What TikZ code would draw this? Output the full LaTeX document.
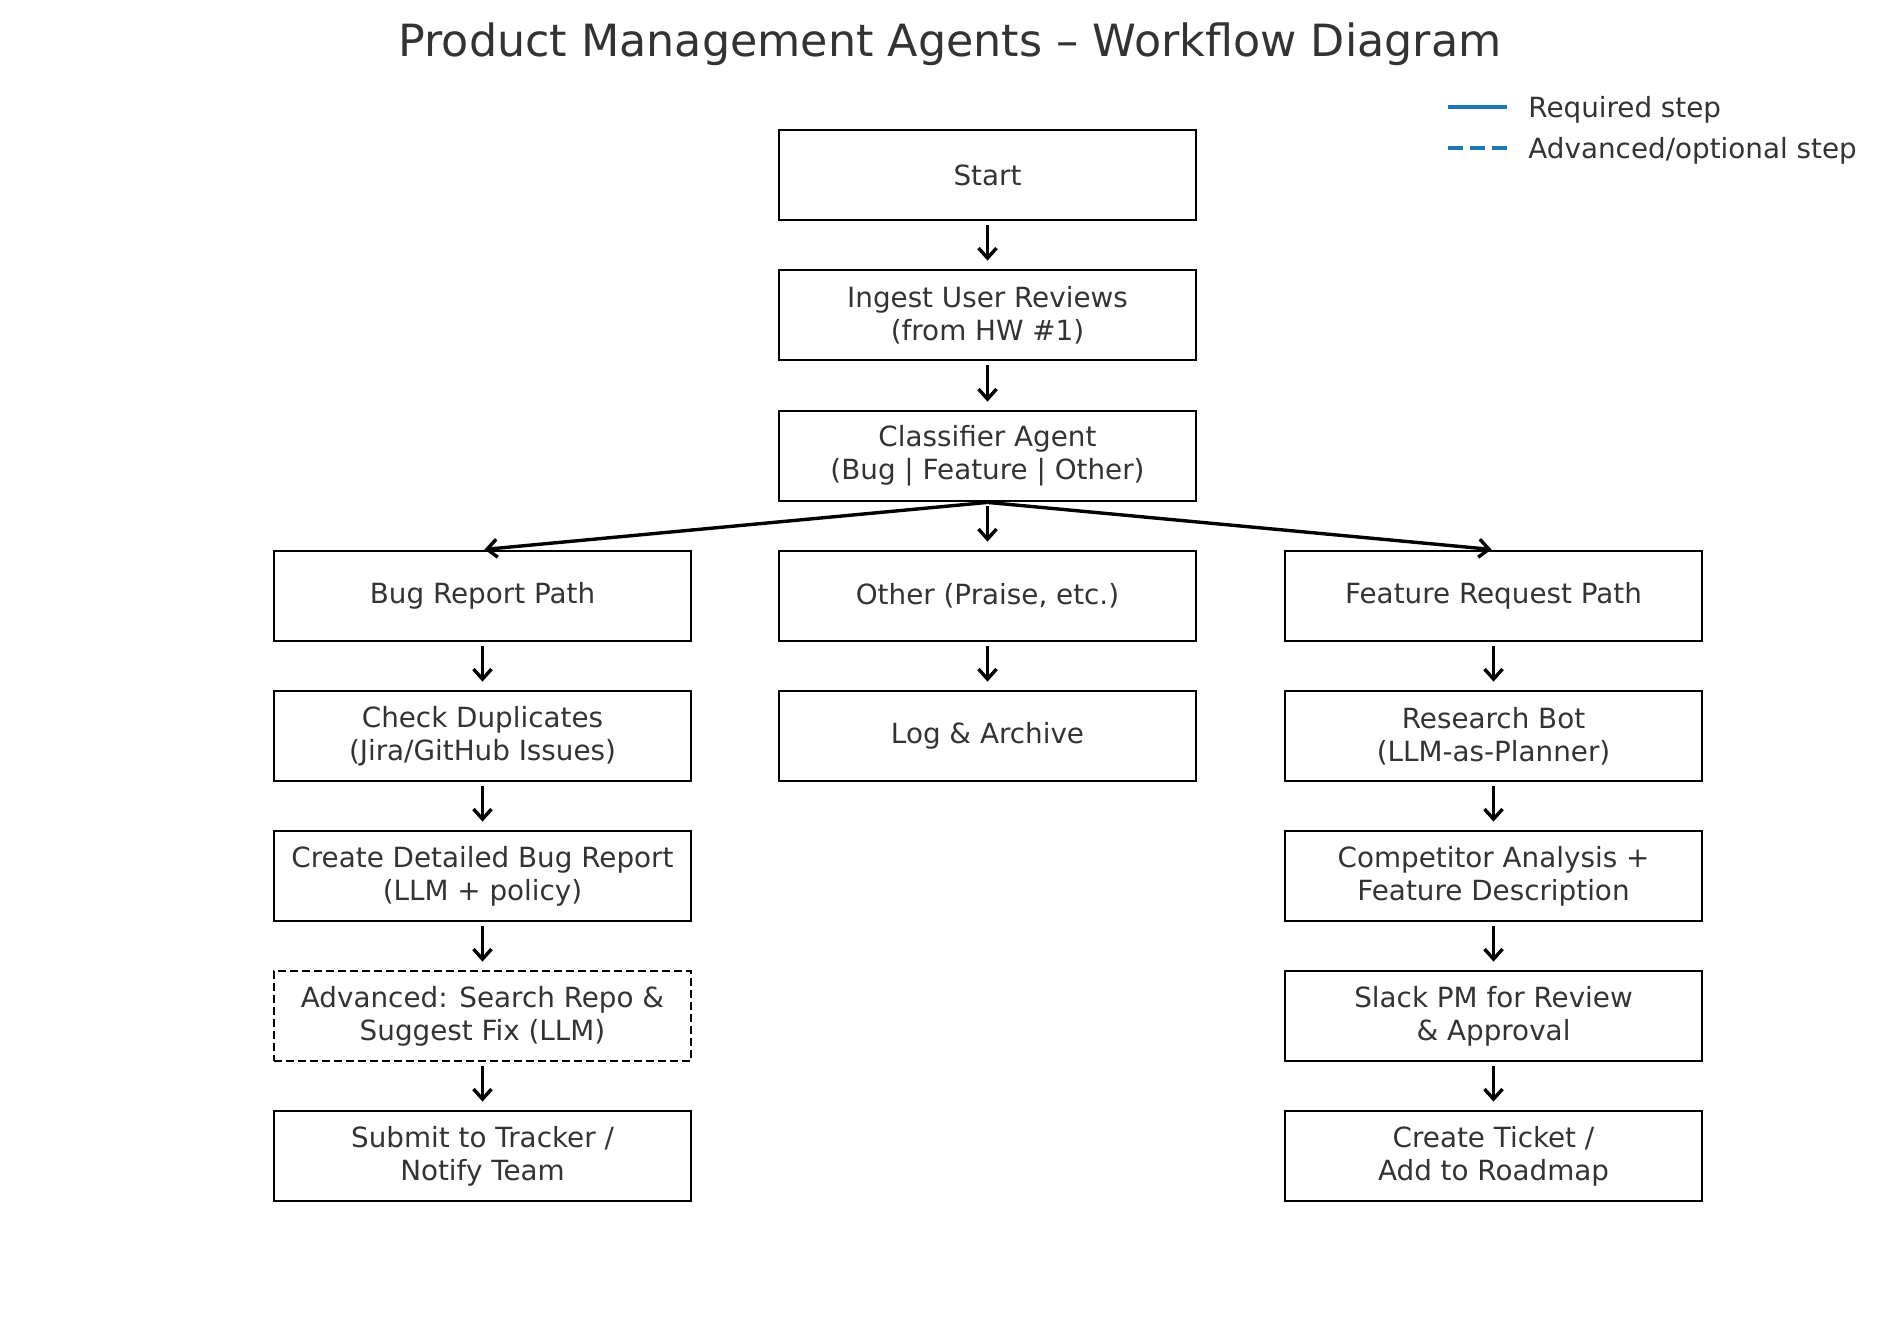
\documentclass[tikz,border=0pt]{standalone}
\usepackage{fontspec}
\setmainfont{DejaVu Sans}
\usetikzlibrary{arrows.meta}
\definecolor{legendblue}{RGB}{31,119,180}
\definecolor{textgray}{RGB}{51,51,51}

\begin{document}
\begin{tikzpicture}[x=0.5pt,y=-0.5pt,>={Straight Barb[length=5pt,width=9pt]},
stepbox/.style={draw,rectangle,line width=1.4pt,minimum width=208.5pt,minimum height=45pt,inner sep=2pt,align=center,text=textgray,font=\fontsize{13.9pt}{16.5pt}\selectfont},
optbox/.style={stepbox,dash pattern=on 4pt off 2pt},
flow/.style={->,line width=1.7pt,shorten <=2pt,shorten >=4pt},
legline/.style={line width=1.6pt,legendblue},
legtext/.style={anchor=west,inner sep=0pt,text=textgray,font=\fontsize{13.9pt}{16.5pt}\selectfont}]
\useasboundingbox (0,0) rectangle (1900,1322);

\draw (950,44) node[text=textgray,font=\fontsize{22.2pt}{26pt}\selectfont] (title) {Product Management Agents – Workflow Diagram};

% legend
\coordinate (reqa) at (1448,107);
\coordinate (reqb) at (1507,107);
\coordinate (opta) at (1448,148);
\coordinate (optb) at (1507,148);
\draw[legline] (reqa) -- (reqb);
\draw[legline,dash pattern=on 7.6pt off 3.3pt] (opta) -- (optb);
\draw (1528,110) node[legtext] (reqtext) {Required step};
\draw (1528,151) node[legtext] (opttext) {Advanced/optional step};

% main column
\draw (987.5,175) node[stepbox] (start) {Start};
\draw (987.5,315) node[stepbox] (ingest) {Ingest User Reviews\\(from HW \#1)};
\draw (987.5,456) node[stepbox] (classifier) {Classifier Agent\\(Bug | Feature | Other)};
\draw (987.5,596) node[stepbox] (other) {Other (Praise, etc.)};
\draw (987.5,736) node[stepbox] (logarch) {Log \& Archive};

% bug path
\draw (482.5,596) node[stepbox] (bug) {Bug Report Path};
\draw (482.5,736) node[stepbox] (dup) {Check Duplicates\\(Jira/GitHub Issues)};
\draw (482.5,876) node[stepbox] (bugrep) {Create Detailed Bug Report\\(LLM + policy)};
\draw (482.5,1016) node[optbox] (advfix) {Advanced: Search Repo \&\\Suggest Fix (LLM)};
\draw (482.5,1156) node[stepbox] (submit) {Submit to Tracker /\\Notify Team};

% feature path
\draw (1493.5,596) node[stepbox] (feature) {Feature Request Path};
\draw (1493.5,736) node[stepbox] (research) {Research Bot\\(LLM-as-Planner)};
\draw (1493.5,876) node[stepbox] (compet) {Competitor Analysis +\\Feature Description};
\draw (1493.5,1016) node[stepbox] (slack) {Slack PM for Review\\\& Approval};
\draw (1493.5,1156) node[stepbox] (ticket) {Create Ticket /\\Add to Roadmap};

\foreach \a/\b in {start/ingest,ingest/classifier,classifier/other,other/logarch,
  bug/dup,dup/bugrep,bugrep/advfix,advfix/submit,
  feature/research,research/compet,compet/slack,slack/ticket}
  \draw[flow] (\a.south) -- (\b.north);

\draw[flow,shorten <=0pt,shorten >=1pt] (classifier.south) -- (bug.north);
\draw[flow,shorten <=0pt,shorten >=1pt] (classifier.south) -- (feature.north);
\end{tikzpicture}
\end{document}
